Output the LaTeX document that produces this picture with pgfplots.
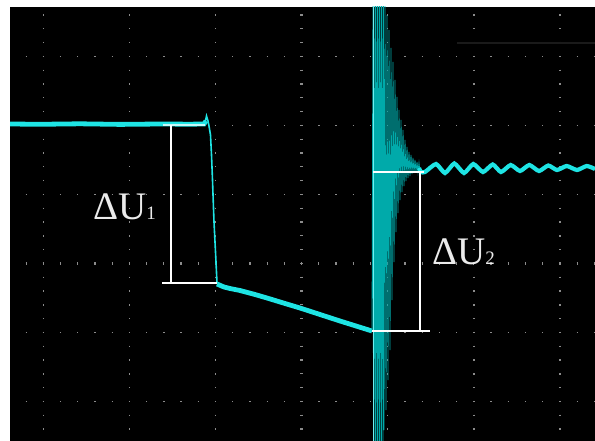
\documentclass[border=0pt]{standalone}
\usepackage{pgfplots}
\pgfplotsset{compat=1.18}
\usepackage{fontspec}
\setmainfont{Liberation Serif}
\definecolor{trace}{RGB}{30,228,228}
\definecolor{ring}{RGB}{0,170,170}
\definecolor{gridc}{RGB}{140,140,140}
\begin{document}
\begin{tikzpicture}[x=1pt,y=1pt]
\fill[white] (0,0) rectangle (595,441);
\begin{axis}[
  at={(10pt,0pt)}, anchor=south west,
  scale only axis, width=585pt, height=434pt,
  xmin=10, xmax=595, ymin=7, ymax=441, y dir=reverse,
  axis background/.style={fill=black},
  axis line style={draw=none},
  xtick=\empty, ytick=\empty,
  clip=true,
]
% grid: vertical dotted lines
\pgfplotsinvokeforeach{43.4,129.5,215.6,387.8,473.9,560}{
  \draw[gridc, line width=1.3pt, dash pattern=on 1.3pt off 12.5pt] (axis cs:#1,14.4) -- (axis cs:#1,441);
}
\draw[gridc, line width=3pt, dash pattern=on 1.2pt off 12.6pt] (axis cs:301.7,14.4) -- (axis cs:301.7,441);
% grid: horizontal dotted lines
\pgfplotsinvokeforeach{56.5,125.5,194.5,332.5,401.5}{
  \draw[gridc, line width=1.3pt, dash pattern=on 1.3pt off 15.92pt] (axis cs:25.5,#1) -- (axis cs:595,#1);
}
\draw[gridc, line width=3pt, dash pattern=on 1.2pt off 16.02pt] (axis cs:25.5,263.5) -- (axis cs:595,263.5);
% faint line top right
\addplot[draw={rgb,255:red,26;green,26;blue,26}, line width=2pt] coordinates {(457,43) (595,43)};

% flat part before the step
\addplot[trace, line width=4.8pt] coordinates {
(10,124) (40,124.3) (80,123.8) (120,124.4) (160,124) (190,124.2) (204,124) (206,121)
};
\addplot[trace, line width=1.6pt] coordinates {
(205,123) (206.5,116) (208,121) (209,126) (210.5,135) (211.5,155) (212.5,180) (213.2,200) (214,222) (215,242) (216,262) (217,283)
};
% sloping part
\addplot[trace, line width=4.8pt] coordinates {
(217,284) (224,287) (230,288.5) (240,290.5) (255,294.5) (267,298) (285,303.5) (300,308) (320,314.5) (340,321) (356,326) (372,331)
};
% ringing
\addplot[ring, line width=0.8pt] coordinates {
(372,331) (373,-5) (373.5,446) (374,-5) (375,446) (375.5,-5) (376,446) (377,-5) (377.5,446)
(378,-5) (379,446) (379.5,-5) (380,446) (381,-5) (381.5,446) (382,-5) (383,446) (383.5,-5) (384,430)
(385,5) (386,410) (387,15) (388,380) (389,30) (390,350) (391,48) (392,300) (393,62) (394,262)
(395,80) (396,232) (397,97) (398,213) (399,110) (400,200) (401,120) (402,192) (403,130) (404,186)
(405,140) (406,181) (407,147) (408,178) (409,152) (410,176) (411,155) (412,174) (413,158) (414,173)
(415,160) (416,172) (417,162) (418,172) (419,163) (420,172)
};
\addplot[draw={rgb,255:red,110;green,240;blue,240}, line width=0.6pt] coordinates {
(373,-5) (373,446)
};
% settled ripple
\addplot[trace, line width=4.2pt, smooth, tension=0.35] coordinates {
(419,168) (421,172) (425,172) (436,164) (445,173) (454.3,163.5) (464,173) (473.3,164) (483,172)
(492.7,164.5) (501,172) (510.7,165) (520,171) (529.3,165) (539,171) (548.3,165.5) (557,170)
(566.7,166) (577,170) (586.7,166) (595,169)
};
% annotations
\addplot[white, opacity=0.75, line width=2pt] coordinates {(163,125) (205,125)};
\addplot[white, line width=2pt] coordinates {(171,125) (171,283)};
\addplot[white, line width=2pt] coordinates {(162,283) (217,283)};
\addplot[white, line width=2pt] coordinates {(373,172) (424,172)};
\addplot[white, line width=2pt] coordinates {(420,172) (420,331)};
\addplot[white, line width=2pt] coordinates {(372,331) (430,331)};
\node[anchor=base west, inner sep=0pt, text={rgb,255:red,235;green,235;blue,235}] at (axis cs:93,219)
  {\fontsize{39}{39}\selectfont ΔU{\fontsize{19}{19}\selectfont 1}};
\node[anchor=base west, inner sep=0pt, text={rgb,255:red,235;green,235;blue,235}] at (axis cs:432,264)
  {\fontsize{39}{39}\selectfont ΔU{\fontsize{19}{19}\selectfont 2}};
\end{axis}
\end{tikzpicture}
\end{document}
